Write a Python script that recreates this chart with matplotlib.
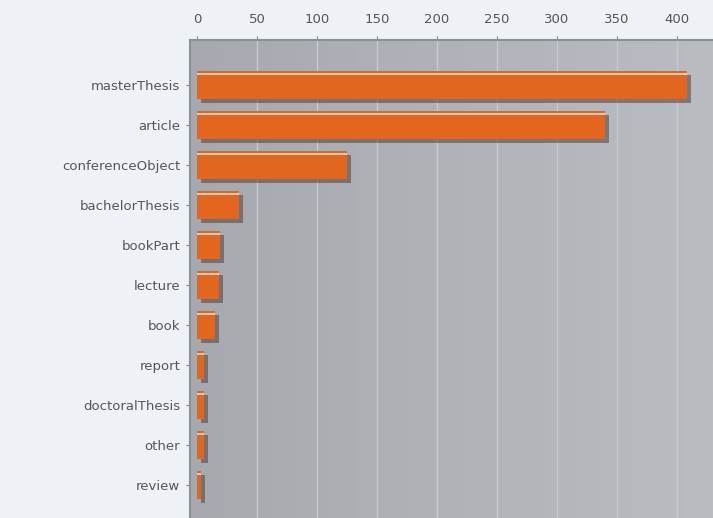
import numpy as np
import matplotlib.pyplot as plt
import matplotlib.patheffects as pe

# document types and their counts
doc_types = ["masterThesis", "article", "conferenceObject", "bachelorThesis",
             "bookPart", "lecture", "book", "report", "doctoralThesis",
             "other", "review"]
counts = [408, 340, 125, 35, 19, 18, 15, 6, 6, 6, 3]
x_ticks = [0, 50, 100, 150, 200, 250, 300, 350, 400]

fig = plt.figure(figsize=(7.13, 5.18), dpi=100)
fig.patch.set_facecolor("#eef2f6")
ax = fig.add_axes([190 / 713, 0.0, 1 - 190 / 713, 1 - 40 / 518])

xmin, xmax = -5.8, 430
ymin, ymax = 10.825, -1.125

# gray gradient background
grad = np.linspace(0, 1, 256).reshape(1, -1)
ax.imshow(grad, extent=[xmin, xmax, ymin, ymax], aspect="auto",
          cmap=plt.matplotlib.colors.LinearSegmentedColormap.from_list(
              "bg", ["#a6aaae", "#b9bcc0"]), zorder=0)

ax.set_xlim(xmin, xmax)
ax.set_ylim(ymin, ymax)

for x in x_ticks[1:]:
    ax.axvline(x, color="#c8cbce", lw=1.0, zorder=1)

y = np.arange(len(doc_types))
bars = ax.barh(y, counts, height=0.7, color="#e2661e", zorder=3)
for b in bars:
    b.set_path_effects([pe.SimplePatchShadow(offset=(3, -3), shadow_rgbFace="#4a4e52", alpha=0.6),
                        pe.Normal()])
# highlight stripe on top of each bar
ax.barh(y - 0.28, counts, height=0.06, color="#f6c9a6", zorder=4)

ax.set_yticks(y)
ax.set_yticklabels(doc_types)
ax.set_xticks(x_ticks)
ax.xaxis.tick_top()
ax.tick_params(axis="both", colors="#888888", labelcolor="#555555", labelsize=9.5, length=3)
ax.tick_params(axis="y", pad=4)
ax.tick_params(axis="x", pad=7)

for side in ["right", "bottom"]:
    ax.spines[side].set_visible(False)
for side in ["left", "top"]:
    ax.spines[side].set_color("#8a9096")
    ax.spines[side].set_linewidth(1.5)

fig.savefig("out.png", dpi=100, facecolor=fig.get_facecolor())
